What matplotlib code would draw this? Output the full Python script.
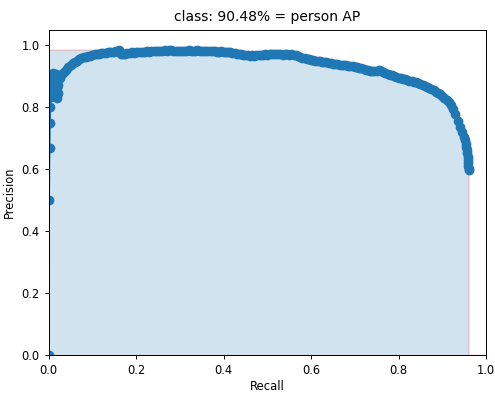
import matplotlib
matplotlib.use("Agg")
import matplotlib.pyplot as plt

recall = [
    0.0, 0.001, 0.002, 0.003, 0.004, 0.005, 0.006, 0.0065, 0.007, 0.008, 0.009,
    0.010, 0.011, 0.012, 0.013, 0.014, 0.015, 0.016, 0.017, 0.018, 0.019, 0.020,
    0.021, 0.022,
    0.025, 0.030, 0.035, 0.040, 0.045, 0.050, 0.055, 0.060, 0.065, 0.070,
    0.075, 0.080, 0.085, 0.090, 0.095, 0.100, 0.105, 0.110, 0.115, 0.120,
    0.125, 0.130, 0.135, 0.140, 0.145, 0.150, 0.155, 0.160, 0.165, 0.170,
    0.175, 0.180, 0.185, 0.190, 0.195, 0.200, 0.205, 0.210, 0.215, 0.220,
    0.225, 0.230, 0.235, 0.240, 0.245, 0.250, 0.255, 0.260, 0.265, 0.270,
    0.275, 0.280, 0.285, 0.290, 0.295, 0.300, 0.305, 0.310, 0.315, 0.320,
    0.325, 0.330, 0.335, 0.340, 0.345, 0.350, 0.355, 0.360, 0.365, 0.370,
    0.375, 0.380, 0.385, 0.390, 0.395, 0.400, 0.405, 0.410, 0.415, 0.420,
    0.425, 0.430, 0.435, 0.440, 0.445, 0.450, 0.455, 0.460, 0.465, 0.470,
    0.475, 0.480, 0.485, 0.490, 0.495, 0.500, 0.505, 0.510, 0.515, 0.520,
    0.525, 0.530, 0.535, 0.540, 0.545, 0.550, 0.555, 0.560, 0.565, 0.570,
    0.575, 0.580, 0.585, 0.590, 0.595, 0.600, 0.605, 0.610, 0.615, 0.620,
    0.625, 0.630, 0.635, 0.640, 0.645, 0.650, 0.655, 0.660, 0.665, 0.670,
    0.675, 0.680, 0.685, 0.690, 0.695, 0.700, 0.705, 0.710, 0.715, 0.720,
    0.725, 0.730, 0.735, 0.740, 0.745, 0.750, 0.755, 0.760, 0.765, 0.770,
    0.775, 0.780, 0.785, 0.790, 0.795, 0.800, 0.805, 0.810, 0.815, 0.820,
    0.825, 0.830, 0.835, 0.840, 0.845, 0.850, 0.855, 0.860, 0.865, 0.870,
    0.875, 0.880, 0.885, 0.890, 0.895, 0.900, 0.905, 0.910, 0.915, 0.920,
    0.925, 0.930, 0.935, 0.940, 0.945, 0.950,
    0.952, 0.954, 0.955, 0.956, 0.957, 0.958, 0.9585, 0.959, 0.9595, 0.960, 0.960,
]
precision = [
    0.0, 0.5, 0.667, 0.75, 0.8, 0.833, 0.857, 0.875, 0.889, 0.9, 0.909,
    0.88, 0.86, 0.84, 0.85, 0.87, 0.89, 0.905, 0.88, 0.86, 0.84, 0.83,
    0.845, 0.87,
    0.895, 0.905, 0.913, 0.920, 0.928, 0.936, 0.941, 0.946, 0.950, 0.954,
    0.957, 0.960, 0.962, 0.964, 0.966, 0.968, 0.970, 0.971, 0.972, 0.973,
    0.974, 0.975, 0.976, 0.977, 0.978, 0.978, 0.980, 0.984, 0.971, 0.970,
    0.972, 0.973, 0.975, 0.976, 0.975, 0.977, 0.978, 0.977, 0.979, 0.978,
    0.980, 0.979, 0.981, 0.980, 0.982, 0.981, 0.980, 0.982, 0.983, 0.981,
    0.983, 0.985, 0.982, 0.980, 0.981, 0.982, 0.980, 0.982, 0.981, 0.983,
    0.981, 0.980, 0.982, 0.983, 0.981, 0.980, 0.981, 0.982, 0.980, 0.981,
    0.980, 0.981, 0.979, 0.978, 0.980, 0.979, 0.978, 0.977, 0.977, 0.975,
    0.974, 0.972, 0.971, 0.970, 0.969, 0.967, 0.968, 0.966, 0.967, 0.966,
    0.967, 0.968, 0.969, 0.968, 0.970, 0.969, 0.971, 0.970, 0.971, 0.970,
    0.971, 0.970, 0.969, 0.971, 0.970, 0.969, 0.970, 0.968, 0.967, 0.965,
    0.960, 0.959, 0.958, 0.956, 0.955, 0.953, 0.952, 0.950, 0.949, 0.947,
    0.946, 0.945, 0.944, 0.942, 0.941, 0.940, 0.939, 0.938, 0.937, 0.936,
    0.935, 0.934, 0.933, 0.932, 0.931, 0.930, 0.929, 0.927, 0.925, 0.923,
    0.920, 0.918, 0.916, 0.915, 0.916, 0.917, 0.918, 0.916, 0.913, 0.910,
    0.907, 0.904, 0.902, 0.900, 0.897, 0.894, 0.893, 0.891, 0.889, 0.887,
    0.885, 0.884, 0.882, 0.880, 0.878, 0.875, 0.872, 0.869, 0.866, 0.862,
    0.858, 0.854, 0.849, 0.845, 0.841, 0.836, 0.830, 0.824, 0.816, 0.806,
    0.793, 0.777, 0.755, 0.735, 0.718, 0.704,
    0.694, 0.682, 0.672, 0.662, 0.652, 0.640, 0.630, 0.620, 0.610, 0.600, 0.597,
]
class_name = "person"
ap = 0.9048

# VOC-style interpolated precision envelope
mrec = [0.0] + list(recall) + [1.0]
mpre = [0.0] + list(precision) + [0.0]
for i in range(len(mpre) - 2, -1, -1):
    mpre[i] = max(mpre[i], mpre[i + 1])
area_x = mrec[:-1] + [mrec[-2]] + [mrec[-1]]
area_y = mpre[:-1] + [0.0] + [mpre[-1]]

fig = plt.figure(figsize=(4.95, 3.93), dpi=100)
ax = fig.add_axes([48.7 / 495, 38 / 393, 437.3 / 495, 325.5 / 393])
ax.plot(recall, precision, '-o', color='#1f77b4', markersize=6, linewidth=1.25)
ax.fill_between(area_x, 0, area_y, alpha=0.2, edgecolor='r')
ax.set_title(f"class: {ap*100:.2f}% = {class_name} AP", fontsize=10)
ax.set_xlabel("Recall", fontsize=8.3, labelpad=2)
ax.set_ylabel("Precision", fontsize=8.3)
ax.set_xlim(0.0, 1.0)
ax.set_ylim(0.0, 1.05)
ax.tick_params(labelsize=8.3, width=0.7, length=3)
for s in ax.spines.values():
    s.set_linewidth(0.7)
fig.savefig("out.png", dpi=100)
